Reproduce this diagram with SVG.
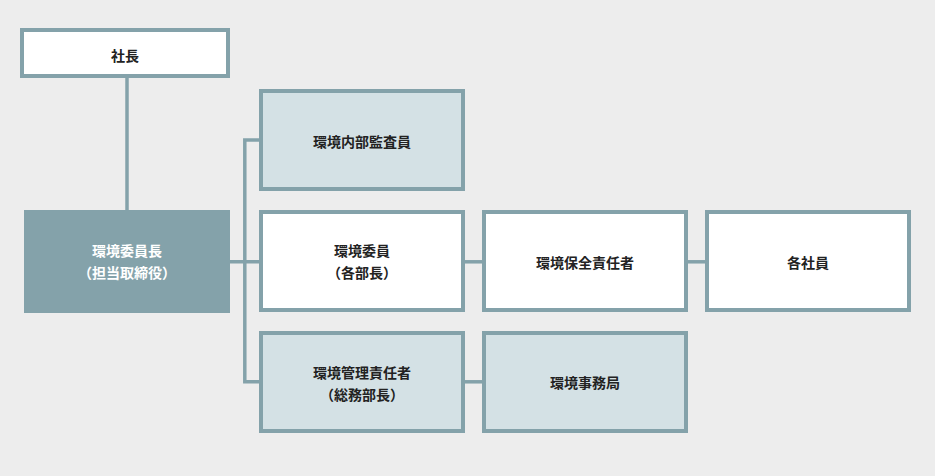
<svg xmlns="http://www.w3.org/2000/svg" width="935" height="476" viewBox="0 0 935 476">
<style>
.box{stroke:#84a2aa;stroke-width:4}
.w{fill:#ffffff}
.l{fill:#d4e1e5}
.d{fill:#84a2aa}
.t{font-family:"Noto Sans CJK JP","Noto Sans",sans-serif;font-weight:bold;font-size:14px;fill:#222222;text-anchor:middle;dominant-baseline:central}
.tw{fill:#ffffff}
.c{stroke:#84a2aa;stroke-width:3.5;fill:none}
</style>
<rect x="0" y="0" width="935" height="476" fill="#ededed"/>
<g id="connectors">
<line class="c" x1="127" y1="76" x2="127" y2="212"/>
<polyline class="c" points="263,140 244.8,140 244.8,381.8 263,381.8"/>
<line class="c" x1="228" y1="261.8" x2="263" y2="261.8"/>
<line class="c" x1="463" y1="261.8" x2="484" y2="261.8"/>
<line class="c" x1="686" y1="261.8" x2="707" y2="261.8"/>
<line class="c" x1="463" y1="381.8" x2="484" y2="381.8"/>
</g>
<g id="president">
<rect class="box w" x="22" y="30" width="206" height="46"/>
<text class="t" x="125" y="55">社長</text>
</g>
<g id="chair">
<rect class="d" x="24" y="210" width="206" height="103"/>
<text class="t tw" x="127" y="250">環境委員長</text>
<text class="t tw" x="127" y="272">（担当取締役）</text>
</g>
<g id="auditor">
<rect class="box l" x="261" y="91" width="202" height="98"/>
<text class="t" x="362" y="141">環境内部監査員</text>
</g>
<g id="committee">
<rect class="box w" x="261" y="212" width="202" height="98"/>
<text class="t" x="362" y="250">環境委員</text>
<text class="t" x="362" y="272">（各部長）</text>
</g>
<g id="manager">
<rect class="box l" x="261" y="333" width="202" height="98"/>
<text class="t" x="362" y="372">環境管理責任者</text>
<text class="t" x="362" y="394">（総務部長）</text>
</g>
<g id="conservation">
<rect class="box w" x="484" y="212" width="202" height="98"/>
<text class="t" x="585" y="262">環境保全責任者</text>
</g>
<g id="employees">
<rect class="box w" x="707" y="212" width="202" height="98"/>
<text class="t" x="808" y="262">各社員</text>
</g>
<g id="office">
<rect class="box l" x="484" y="333" width="202" height="98"/>
<text class="t" x="585" y="382">環境事務局</text>
</g>
</svg>
